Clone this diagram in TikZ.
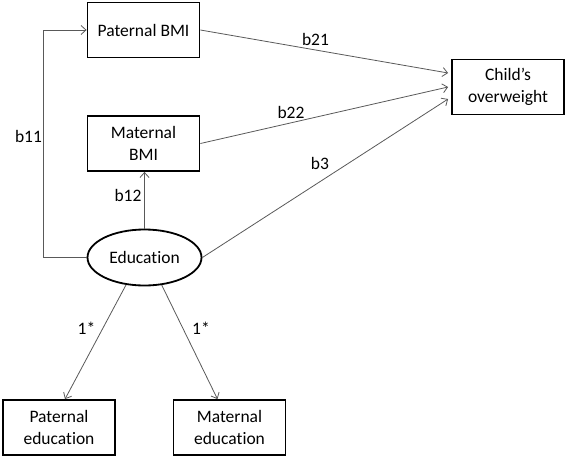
\documentclass[tikz,border=0pt]{standalone}
\usepackage{fontspec}
\setmainfont[Ligatures=NoCommon]{Carlito}
\usetikzlibrary{positioning,arrows.meta,shapes.geometric}
\newcommand{\diagfont}{\fontsize{17.5}{21.5}\selectfont}
\tikzset{
>={Straight Barb[length=5pt,width=9pt]},
  var/.style={
    rectangle,
    draw=black, line width=1.8pt,
    minimum width=112pt,
    minimum height=55pt,
    align=center,
    font=\diagfont},
  latent/.style={
    ellipse,
    draw=black, line width=1.8pt,
    minimum width=114pt,
    minimum height=56pt,
    font=\diagfont},
  line/.style={draw=black!65, line width=0.8pt, ->},
  coef/.style={font=\diagfont, inner sep=0pt},
}
\begin{document}
\begin{tikzpicture}[x=1pt, y=-1pt]
  \useasboundingbox (0,0) rectangle (567,458);
  % variables
  \node[var] (patbmi) at (143.5,30) {Paternal BMI};
  \node[var] (matbmi) at (143.5,143.5) {Maternal\\BMI};
  \node[var] (child) at (508,87) {Child’s\\overweight};
  \node[latent] (edu) at (144.5,257.5) {Education};
  \node[var] (patedu) at (59,427.5) {Paternal\\education};
  \node[var] (matedu) at (229.5,427.5) {Maternal\\education};
  % paths
  \draw[line] (edu.west) -- ++(-43,0) |- (patbmi.west);
  \draw[line] (edu.north) -- (edu.north |- matbmi.south);
  \draw[line] (patbmi.east) -- ([xshift=-3pt,yshift=14pt]child.west);
  \draw[line] (matbmi.east) -- ([xshift=-3pt]child.west);
  \draw[line] (edu.east) -- ([xshift=-3pt,yshift=-12pt]child.west);
  \draw[line] (edu.236) -- ([xshift=6pt]patedu.north);
  \draw[line] (edu.302) -- ([xshift=-12pt]matedu.north);
  % coefficients
  \node[coef] (b11) at (28.5,136) {b11};
  \node[coef] (b12) at (128,195) {b12};
  \node[coef] (b21) at (315.5,39) {b21};
  \node[coef] (b22) at (291,112) {b22};
  \node[coef] (b3) at (320,163) {b3};
  \node[coef] (l1) at (86.5,328) {1*};
  \node[coef] (l2) at (201,328) {1*};
\end{tikzpicture}
\end{document}
